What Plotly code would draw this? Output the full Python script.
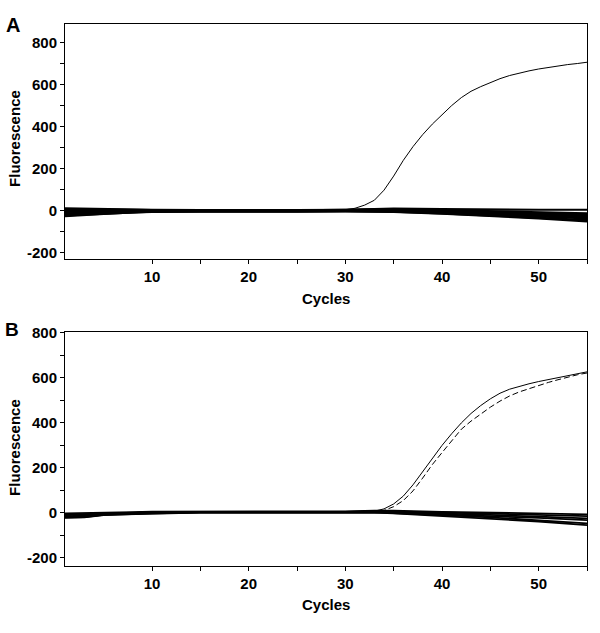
import plotly.graph_objects as go

# ---------------- data ----------------
cycles = list(range(1, 56))

# Panel A: amplifying sample (per cycle)
a_amp = [8, 6, 5, 4, 3, 3, 2, 2, 2, 1, 1, 1, 1, 0, 0, 0, 0, 0, 1, 1,
         1, 1, 1, 2, 2, 2, 3, 3, 4, 5, 12, 27, 50, 98, 165, 240, 305, 362, 412, 455,
         500, 538, 568, 590, 610, 628, 643, 655, 665, 674, 682, 689, 695, 700, 706]

# Panel B: two amplifying samples (solid and dashed)
b_amp_solid = [-10, -8, -6, -4, -2, 0, 1, 2, 3, 3, 4, 4, 4, 4, 4, 4, 4, 4, 4, 4,
               4, 4, 4, 4, 4, 4, 5, 5, 5, 6, 6, 7, 8, 18, 40, 75, 125, 185, 245, 300,
               352, 400, 442, 477, 507, 532, 550, 563, 574, 584, 593, 601, 609, 618, 627]
b_amp_dashed = [-10, -8, -6, -4, -2, 0, 1, 2, 3, 3, 4, 4, 4, 4, 4, 4, 4, 4, 4, 4,
                4, 4, 4, 4, 4, 4, 5, 5, 5, 6, 6, 6, 5, 11, 28, 55, 98, 155, 215, 268,
                322, 372, 408, 440, 470, 497, 520, 538, 553, 567, 580, 592, 604, 614, 622]

# Negative / baseline samples, read at sparse cycles
base_cycles = [1, 3, 5, 8, 10, 15, 20, 25, 30, 33, 35, 40, 45, 50, 55]

a_base_1 = [12, 10, 8, 6, 5, 3, 2, 3, 5, 8, 10, 8, 5, 5, 5]
a_base_2 = [8, 6, 5, 4, 3, 2, 1, 2, 4, 6, 8, 3, -3, -8, -12]
a_base_3 = [3, 2, 2, 2, 1, 0, 0, 1, 3, 4, 5, 0, -6, -12, -18]
a_base_4 = [-5, -3, -2, 0, 0, 0, -1, 0, 1, 2, 2, -3, -10, -17, -24]
a_base_5 = [-12, -9, -6, -3, -1, -1, -2, -1, 0, 0, 0, -6, -14, -22, -30]
a_base_6 = [-18, -14, -10, -5, -3, -2, -3, -2, -1, -2, -2, -9, -18, -27, -36]
a_base_7 = [-22, -18, -13, -7, -4, -3, -4, -3, -2, -3, -4, -12, -22, -32, -44]
a_base_8 = [-26, -22, -15, -8, -5, -4, -5, -4, -3, -4, -5, -14, -24, -36, -50]

b_base_1 = [-2, -1, 2, 4, 6, 6, 5, 5, 7, 10, 10, 5, 2, -2, -6]
b_base_2 = [-8, -6, -2, 2, 4, 5, 4, 4, 5, 8, 7, 2, -3, -8, -14]
b_base_3 = [-14, -12, -5, 0, 2, 4, 3, 3, 4, 6, 4, -3, -9, -16, -24]
b_base_4 = [-18, -16, -7, -3, 0, 3, 2, 2, 3, 4, 2, -7, -14, -22, -32]
b_base_5 = [-20, -18, -8, -5, -1, 2, 2, 1, 2, 3, 0, -10, -20, -32, -46]
b_base_6 = [-22, -20, -10, -6, -2, 1, 1, 1, 2, 2, -2, -13, -25, -38, -54]

a_bases = [a_base_1, a_base_2, a_base_3, a_base_4, a_base_5, a_base_6, a_base_7, a_base_8]
b_bases = [b_base_1, b_base_2, b_base_3, b_base_4, b_base_5, b_base_6]

y_tickvals = [-200, -100, 0, 100, 200, 300, 400, 500, 600, 700, 800]
y_ticktext = ["-200", "", "0", "", "200", "", "400", "", "600", "", "800"]
x_tickvals = [10, 15, 20, 25, 30, 35, 40, 45, 50, 55]
x_ticktext = ["10", "", "20", "", "30", "", "40", "", "50", ""]

# ---------------- figure ----------------
W, H = 600, 633
fig = go.Figure()

for yb in a_bases:
    fig.add_trace(go.Scatter(x=base_cycles, y=yb, mode="lines",
                             line=dict(color="black", width=2.2),
                             xaxis="x", yaxis="y", showlegend=False))
fig.add_trace(go.Scatter(x=cycles, y=a_amp, mode="lines",
                         line=dict(color="black", width=1),
                         xaxis="x", yaxis="y", showlegend=False))

for yb in b_bases:
    fig.add_trace(go.Scatter(x=base_cycles, y=yb, mode="lines",
                             line=dict(color="black", width=1.8),
                             xaxis="x2", yaxis="y2", showlegend=False))
fig.add_trace(go.Scatter(x=cycles, y=b_amp_solid, mode="lines",
                         line=dict(color="black", width=1),
                         xaxis="x2", yaxis="y2", showlegend=False))
fig.add_trace(go.Scatter(x=cycles, y=b_amp_dashed, mode="lines",
                         line=dict(color="black", width=1, dash="6px,3px"),
                         xaxis="x2", yaxis="y2", showlegend=False))

tickfont = dict(family="Liberation Sans, Arial, sans-serif", size=15, color="black", weight="bold")

def xax(anchor):
    return dict(domain=[65 / W, 587 / W], range=[1, 55], anchor=anchor,
                showline=True, mirror=True, linecolor="black", linewidth=1,
                showgrid=False, zeroline=False, ticks="outside", ticklen=4,
                tickcolor="black", tickwidth=1,
                tickvals=x_tickvals, ticktext=x_ticktext, tickfont=tickfont)

def yax(anchor, dom, rng):
    return dict(domain=dom, range=rng, anchor=anchor,
                showline=True, mirror=True, linecolor="black", linewidth=1,
                showgrid=False, zeroline=False, ticks="outside", ticklen=4,
                tickcolor="black", tickwidth=1,
                tickvals=y_tickvals, ticktext=y_ticktext, tickfont=tickfont)

fig.update_layout(
    width=W, height=H,
    margin=dict(l=0, r=0, t=0, b=0),
    paper_bgcolor="white", plot_bgcolor="white",
    hovermode=False,
    xaxis=xax("y"),
    yaxis=yax("x", [1 - 255 / H, 1 - 16 / H], [-229, 889]),
    xaxis2=xax("y2"),
    yaxis2=yax("x2", [1 - 567 / H, 1 - 329 / H], [-236, 805]),
)

lab = dict(family="Liberation Sans, Arial, sans-serif", color="black", weight="bold")
ann = [
    dict(text="A", x=12.5 / W, y=1 - 17.5 / H, font=dict(size=20, **lab)),
    dict(text="B", x=11.5 / W, y=1 - 326.5 / H, font=dict(size=19, **lab)),
    dict(text="Cycles", x=326 / W, y=1 - 295 / H, font=dict(size=15, **lab)),
    dict(text="Cycles", x=326 / W, y=1 - 606 / H, font=dict(size=15, **lab)),
    dict(text="Fluorescence", x=15 / W, y=1 - 133 / H, textangle=-90, font=dict(size=15, **lab)),
    dict(text="Fluorescence", x=15 / W, y=1 - 447 / H, textangle=-90, font=dict(size=15, **lab)),
]
for a in ann:
    a.update(xref="paper", yref="paper", xanchor="center", yanchor="middle", showarrow=False)
fig.update_layout(annotations=ann)

fig.write_html("out.html",
               config={"displayModeBar": False, "staticPlot": True},
               post_script="document.body.style.margin='0';document.body.style.overflow='hidden';")
